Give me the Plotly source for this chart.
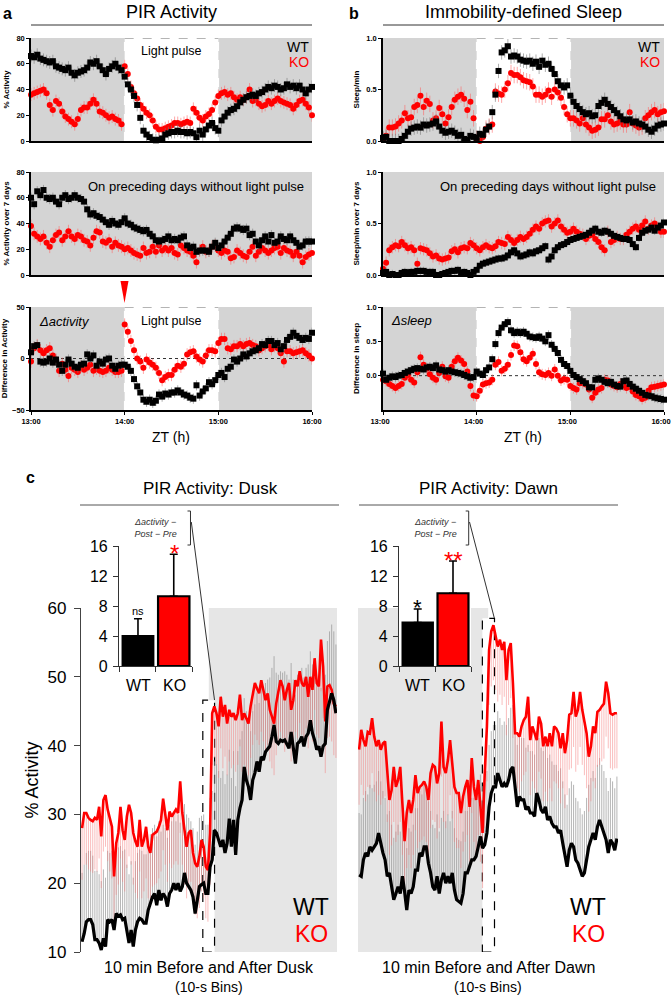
import plotly.graph_objects as go

W, H = 672, 997
FONT = "Liberation Sans, Arial, sans-serif"

# ---------------- data: panels a / b (2-min samples, ZT 13:00-16:00) ----------------
ZT_TICKS = [0, 60, 120, 180]
ZT_LABELS = ["13:00", "14:00", "15:00", "16:00"]
MINUTES = list(range(0, 181, 2))

WT_A_TOP = [66, 65, 67, 64, 63, 62, 61, 62, 58, 57,
            56, 55, 57, 53, 51, 53, 54, 55, 57, 61,
            60, 62, 58, 55, 52, 56, 58, 60, 57, 55,
            50, 44, 40, 35, 28, 18, 8, 5, 3, 1,
            0.5, 1, 2, 5, 6, 7, 7, 8, 7, 7,
            6, 7, 6, 3, 8, 5, 9, 12, 14, 10,
            8, 16, 19, 22, 24, 25, 27, 30, 32, 34,
            35, 36, 35, 37, 38, 40, 42, 41, 43, 42,
            40, 41, 44, 42, 43, 41, 43, 40, 37, 40,
            42]
KO_A_TOP = [36, 37, 38, 39, 40, 37, 28, 24, 31, 29,
            23, 19, 17, 15, 13, 17, 24, 26, 26, 29,
            32, 29, 23, 22, 20, 18, 19, 17, 16, 13,
            58, 52, 42, 37, 33, 28, 25, 22, 20, 16,
            11, 9, 9, 10, 11, 12, 14, 14, 13, 14,
            15, 14, 25, 22, 18, 16, 19, 21, 24, 30,
            35, 37, 38, 36, 37, 34, 32, 34, 32, 34,
            40, 31, 32, 29, 27, 28, 31, 29, 31, 33,
            31, 30, 29, 28, 25, 28, 31, 32, 29, 26,
            20]
WT_A_MID = [60, 55, 65, 62, 66, 60, 59, 60, 57, 55,
            60, 62, 59, 60, 62, 60, 59, 57, 51, 47,
            48, 46, 45, 43, 41, 39, 42, 40, 39, 41,
            44, 40, 39, 37, 36, 35, 34, 35, 32, 30,
            27, 26, 27, 28, 30, 27, 28, 27, 29, 30,
            23, 21, 22, 18, 19, 19, 19, 18, 22, 25,
            21, 23, 26, 29, 32, 36, 37, 36, 35, 36,
            31, 32, 26, 23, 27, 30, 26, 31, 25, 26,
            30, 28, 27, 30, 27, 25, 22, 23, 26, 26,
            26]
KO_A_MID = [38, 32, 30, 28, 30, 25, 22, 27, 31, 33,
            27, 30, 34, 30, 28, 31, 30, 27, 26, 23,
            29, 34, 33, 26, 25, 27, 22, 25, 23, 22,
            20, 21, 19, 17, 16, 15, 21, 17, 18, 22,
            18, 23, 19, 21, 19, 21, 17, 16, 23, 21,
            19, 18, 15, 10, 19, 22, 18, 19, 22, 23,
            19, 17, 19, 18, 13, 14, 19, 17, 15, 14,
            18, 22, 15, 18, 21, 19, 17, 19, 21, 22,
            17, 21, 19, 18, 15, 18, 15, 10, 14, 16,
            17]
WT_A_BOT = [6, 12, 13, -3, -4, -3, 0, -4, -1, -6,
            -12, -6, -1, -5, -8, -9, -6, -5, 4, 0,
            3, -7, -3, -5, -1, 0, -7, -10, -7, -6,
            -6, -8, -12, -20, -27, -33, -40, -42, -40, -43,
            -41, -35, -37, -34, -35, -33, -33, -31, -33, -35,
            -36, -38, -39, -26, -36, -32, -29, -23, -25, -21,
            -16, -14, -18, -10, -8, -1, -3, 0, 4, 2,
            5, 7, 8, 10, 14, 13, 17, 17, 13, 15,
            9, 12, 18, 21, 25, 22, 20, 18, 20, 19,
            25]
KO_A_BOT = [-3, 10, 13, 8, 5, 8, 10, 3, -1, -12,
            -5, -11, -17, -9, -11, -13, -8, -11, -9, -6,
            -12, -10, -12, -13, -12, -9, -11, -13, -13, -12,
            33, 26, 17, 8, 0, -3, -9, -1, -4, -6,
            -9, -14, -21, -18, -16, -16, -11, -7, -8, -5,
            4, 6, 7, 2, -1, -3, 3, 8, 8, 7,
            15, 19, 19, 10, 9, 12, 12, 14, 12, 14,
            15, 13, 12, 8, 10, 12, 13, 9, 12, 10,
            5, -3, 7, 7, 5, 6, 7, 8, 5, 3,
            0]
WT_B_TOP = [0.03, 0.04, 0.0, 0.0, 0.0, 0.0, 0.02, 0.05, 0.09, 0.12,
            0.13, 0.14, 0.13, 0.16, 0.15, 0.16, 0.17, 0.19, 0.14, 0.10,
            0.08, 0.09, 0.10, 0.08, 0.05, 0.06, 0.02, 0.01, 0.05, 0.04,
            0.03, 0.07, 0.06, 0.11, 0.14, 0.28, 0.45, 0.68, 0.86, 0.88,
            0.92, 0.82, 0.83, 0.82, 0.79, 0.78, 0.77, 0.78, 0.75, 0.77,
            0.72, 0.78, 0.74, 0.75, 0.70, 0.65, 0.58, 0.54, 0.52, 0.54,
            0.44, 0.38, 0.34, 0.31, 0.28, 0.26, 0.27, 0.24, 0.25, 0.34,
            0.37, 0.40, 0.36, 0.33, 0.30, 0.27, 0.24, 0.21, 0.20, 0.21,
            0.18, 0.19, 0.17, 0.16, 0.14, 0.11, 0.09, 0.12, 0.15, 0.16,
            0.17]
KO_B_TOP = [0.01, 0.05, 0.13, 0.13, 0.14, 0.17, 0.20, 0.27, 0.22, 0.23,
            0.33, 0.35, 0.44, 0.33, 0.39, 0.36, 0.20, 0.22, 0.32, 0.26,
            0.17, 0.23, 0.33, 0.40, 0.43, 0.45, 0.41, 0.30, 0.38, 0.22,
            0.02, 0.0, 0.04, 0.12, 0.14, 0.16, 0.48, 0.46, 0.45, 0.50,
            0.56, 0.66, 0.64, 0.64, 0.62, 0.59, 0.58, 0.57, 0.53, 0.45,
            0.45, 0.43, 0.45, 0.49, 0.43, 0.50, 0.47, 0.42, 0.33, 0.26,
            0.22, 0.22, 0.20, 0.17, 0.22, 0.16, 0.13, 0.10, 0.11, 0.13,
            0.21, 0.21, 0.25, 0.19, 0.16, 0.17, 0.19, 0.16, 0.16, 0.28,
            0.17, 0.15, 0.13, 0.14, 0.22, 0.25, 0.28, 0.30, 0.26, 0.28,
            0.29]
WT_B_MID = [0.02, 0.03, 0.0, 0.01, 0.0, 0.0, 0.02, 0.03, 0.02, 0.03,
            0.03, 0.04, 0.04, 0.04, 0.03, 0.03, 0.03, 0.0, 0.0, 0.01,
            0.02, 0.03, 0.04, 0.04, 0.05, 0.02, 0.03, 0.02, 0.0, 0.03,
            0.05, 0.09, 0.11, 0.12, 0.13, 0.14, 0.15, 0.16, 0.16, 0.17,
            0.19, 0.22, 0.24, 0.21, 0.18, 0.19, 0.20, 0.22, 0.21, 0.23,
            0.24, 0.26, 0.28, 0.15, 0.18, 0.24, 0.27, 0.29, 0.30, 0.32,
            0.34, 0.35, 0.36, 0.37, 0.38, 0.39, 0.41, 0.43, 0.45, 0.42,
            0.41, 0.43, 0.42, 0.40, 0.38, 0.37, 0.36, 0.35, 0.35, 0.34,
            0.30, 0.27, 0.36, 0.41, 0.43, 0.44, 0.46, 0.43, 0.46, 0.48,
            0.51]
KO_B_MID = [0.06, 0.12, 0.24, 0.27, 0.29, 0.28, 0.32, 0.29, 0.26, 0.27,
            0.24, 0.11, 0.26, 0.25, 0.24, 0.21, 0.18, 0.19, 0.16, 0.15,
            0.16, 0.17, 0.23, 0.25, 0.22, 0.26, 0.27, 0.26, 0.31, 0.29,
            0.26, 0.24, 0.27, 0.29, 0.27, 0.26, 0.28, 0.32, 0.31, 0.30,
            0.37, 0.34, 0.31, 0.34, 0.37, 0.35, 0.37, 0.40, 0.44, 0.47,
            0.45, 0.50, 0.52, 0.53, 0.47, 0.50, 0.53, 0.47, 0.44, 0.41,
            0.42, 0.45, 0.42, 0.40, 0.39, 0.35, 0.38, 0.39, 0.35, 0.32,
            0.27, 0.24, 0.42, 0.32, 0.34, 0.37, 0.35, 0.35, 0.39, 0.42,
            0.45, 0.47, 0.44, 0.48, 0.52, 0.45, 0.48, 0.50, 0.46, 0.42,
            0.42]
WT_B_BOT = [0.03, -0.06, -0.03, -0.01, -0.02, 0.0, 0.01, 0.04, 0.06, 0.08,
            0.10, 0.11, 0.10, 0.09, 0.12, 0.13, 0.11, 0.15, 0.09, 0.08,
            0.06, 0.08, 0.06, 0.05, 0.04, 0.03, 0.01, -0.01, -0.03, -0.02,
            0.06, 0.03, 0.01, 0.08, 0.12, 0.24, 0.46, 0.62, 0.70, 0.75,
            0.78, 0.66, 0.62, 0.64, 0.62, 0.64, 0.61, 0.57, 0.56, 0.55,
            0.57, 0.54, 0.50, 0.59, 0.45, 0.39, 0.33, 0.23, 0.17, 0.14,
            0.07, 0.01, -0.02, -0.05, -0.08, -0.11, -0.17, -0.17, -0.06, -0.04,
            -0.06, -0.09, -0.11, -0.09, -0.13, -0.15, -0.16, -0.08, -0.07, -0.12,
            -0.16, -0.19, -0.22, -0.25, -0.28, -0.29, -0.30, -0.32, -0.33, -0.34,
            -0.35]
KO_B_BOT = [-0.06, -0.08, -0.12, -0.15, -0.18, -0.15, -0.12, -0.03, 0.01, -0.06,
            -0.10, 0.05, 0.27, 0.16, 0.10, 0.02, -0.03, -0.06, 0.04, 0.13,
            -0.01, -0.03, 0.13, 0.21, 0.26, 0.22, 0.17, 0.06, -0.15, -0.29,
            -0.30, -0.22, -0.13, -0.11, -0.10, -0.06, 0.16, 0.20, 0.07, 0.10,
            0.16, 0.30, 0.44, 0.43, 0.34, 0.24, 0.21, 0.26, 0.32, 0.17,
            0.05, 0.02, 0.01, 0.04, 0.0, 0.09, 0.0, -0.07, -0.05, -0.06,
            -0.15, -0.18, -0.20, -0.11, -0.11, -0.13, -0.20, -0.32, -0.25, -0.20,
            -0.18, -0.06, -0.07, -0.13, -0.15, -0.17, -0.12, -0.14, -0.18, -0.16,
            -0.23, -0.28, -0.30, -0.34, -0.32, -0.22, -0.17, -0.16, -0.15, -0.14,
            -0.13]

# approximate SEM per series
SEM_A = {"top": (5, 5), "mid": (4, 5), "bot": (5, 6)}
SEM_B = {"top": (0.07, 0.08), "mid": (0.04, 0.06), "bot": (0.07, 0.08)}

# ---------------- data: panel c (10-s bins, 10 min before / after) ----------------
BINS = list(range(120))
DUSK_WT = [11.5, 12.7, 14.4, 14.7, 14.7, 14.0, 11.8, 11.8, 11.3, 10.3,
           12.0, 10.8, 14.7, 14.4, 14.7, 13.2, 15.6, 15.2, 15.4, 14.7,
           14.9, 12.7, 11.3, 13.2, 10.8, 13.2, 14.4, 14.9, 14.7, 14.2,
           14.2, 16.1, 17.1, 18.0, 18.5, 16.8, 19.0, 17.5, 18.5, 18.0,
           16.6, 18.5, 19.0, 20.0, 19.0, 20.0, 18.8, 19.5, 21.5, 20.0,
           19.5, 19.0, 18.0, 15.6, 17.5, 19.5, 19.8, 20.0, 18.5, 18.5,
           22.4, 23.4, 27.7, 27.3, 26.3, 25.3, 26.3, 24.4, 25.8, 29.4,
           25.3, 29.2, 24.1, 29.2, 30.9, 32.1, 36.9, 35.0, 34.0, 32.1,
           35.0, 36.0, 37.7, 36.2, 38.4, 37.9, 39.1, 39.6, 39.9, 41.3,
           43.0, 40.6, 40.3, 40.8, 40.6, 40.8, 40.3, 39.6, 42.0, 39.6,
           37.4, 40.3, 40.6, 41.3, 39.9, 41.3, 41.8, 43.7, 41.8, 40.8,
           39.4, 39.9, 38.4, 39.9, 40.3, 45.2, 46.6, 47.6, 46.6, 44.7]
DUSK_KO = [28.0, 30.2, 30.2, 29.5, 29.2, 29.0, 29.5, 29.2, 31.1, 26.8,
           32.1, 32.8, 30.7, 29.2, 28.2, 21.0, 25.8, 27.3, 31.1, 27.7,
           26.3, 29.7, 31.4, 30.2, 27.3, 26.1, 25.3, 29.2, 25.3, 26.3,
           28.2, 25.3, 24.4, 27.0, 27.3, 27.5, 28.2, 29.2, 32.3, 30.2,
           27.7, 30.4, 29.7, 30.2, 30.7, 30.2, 34.8, 30.2, 27.3, 25.3,
           27.3, 27.7, 24.4, 22.9, 22.4, 23.9, 26.3, 25.3, 22.4, 21.9,
           27.3, 44.7, 45.7, 44.7, 42.8, 47.1, 44.2, 45.9, 43.2, 45.2,
           44.2, 44.7, 43.7, 44.7, 47.4, 43.7, 44.7, 44.0, 43.2, 45.7,
           47.6, 49.1, 48.3, 47.6, 49.5, 48.1, 46.6, 47.6, 45.2, 44.2,
           43.2, 46.1, 48.1, 49.5, 48.6, 46.6, 48.1, 49.1, 45.2, 46.6,
           49.5, 48.6, 50.8, 49.1, 48.6, 50.0, 47.1, 50.0, 48.1, 52.7,
           49.1, 48.6, 55.4, 51.5, 43.5, 48.6, 48.8, 48.1, 46.1, 45.7]
DAWN_WT = [21.2, 21.0, 23.4, 24.4, 23.9, 25.3, 24.8, 25.3, 25.8, 27.3,
           25.8, 24.4, 23.4, 21.0, 21.5, 19.5, 17.6, 18.5, 19.5, 18.5,
           21.0, 18.8, 16.1, 19.0, 18.5, 19.5, 21.9, 21.9, 24.4, 23.9,
           25.3, 25.3, 22.9, 21.5, 19.5, 19.0, 21.0, 18.5, 20.5, 21.5,
           20.0, 21.0, 20.0, 21.5, 19.0, 17.6, 17.3, 17.1, 18.5, 21.5,
           21.5, 22.4, 23.4, 23.4, 23.9, 25.3, 26.8, 25.1, 25.6, 27.3,
           31.1, 33.1, 34.0, 34.0, 36.0, 35.0, 34.0, 34.5, 34.0, 35.0,
           36.5, 36.9, 33.6, 31.1, 32.6, 32.1, 32.1, 30.7, 31.1, 30.2,
           30.2, 29.7, 33.1, 32.1, 30.7, 30.2, 31.1, 29.2, 29.7, 28.7,
           28.2, 28.2, 27.3, 27.7, 25.8, 23.9, 22.4, 24.8, 25.8, 25.3,
           23.4, 22.9, 21.9, 21.0, 21.5, 23.4, 25.3, 26.3, 27.3, 26.3,
           28.2, 29.2, 28.2, 27.3, 26.3, 24.4, 26.3, 25.8, 24.8, 26.5]
DAWN_KO = [39.4, 42.3, 40.8, 39.9, 42.0, 41.8, 44.0, 41.3, 39.9, 40.8,
           39.4, 40.3, 40.6, 36.9, 32.1, 33.5, 36.9, 34.0, 35.0, 36.9,
           32.1, 26.1, 30.2, 32.1, 30.2, 32.1, 35.7, 33.1, 34.0, 34.3,
           34.8, 34.0, 32.1, 36.0, 37.2, 36.9, 34.5, 36.0, 43.5, 36.9,
           36.0, 37.9, 40.8, 37.4, 34.0, 33.1, 33.1, 30.2, 32.6, 34.0,
           35.0, 31.1, 38.2, 34.0, 32.1, 35.0, 31.1, 27.3, 36.0, 42.8,
           53.9, 56.6, 57.5, 56.1, 54.4, 55.4, 53.9, 55.1, 49.5, 53.9,
           54.9, 49.1, 41.8, 41.8, 41.3, 42.8, 43.7, 44.2, 47.1, 40.8,
           42.8, 41.8, 40.8, 44.2, 43.2, 39.9, 41.3, 39.9, 41.8, 39.9,
           42.8, 42.5, 41.8, 39.6, 41.8, 38.9, 40.8, 44.5, 44.7, 47.8,
           44.2, 45.2, 47.8, 45.2, 43.7, 41.8, 38.4, 39.9, 42.8, 41.8,
           44.9, 45.2, 45.7, 46.1, 49.3, 47.6, 44.7, 44.5, 44.7, 44.7]
DUSK_SEM = (10, 7.5)   # WT (drawn upward), KO (drawn downward)
DAWN_SEM = (9, 8)

# inset bars: delta activity (post - pre)
GROUPS = ["WT", "KO"]
DUSK_DELTA = [4.0, 9.3]
DUSK_DELTA_SEM = [2.3, 5.6]
DAWN_DELTA = [5.8, 9.7]
DAWN_DELTA_SEM = [1.8, 4.3]
INSET_TICKS = [0, 4, 8, 12, 16]
MAIN_TICKS = [10, 20, 30, 40, 50, 60]

RED = "#ff0000"
GREY_AB = "#d4d4d4"
GREY_C = "#e6e6e6"


def PX(x):
    return x / W


def PY(y):
    return 1 - y / H


fig = go.Figure()
layout = {}
shapes = []
annotations = []


def ann(text, x, y, size, color="black", xanchor="center", yanchor="middle", **kw):
    f = dict(family=FONT, size=size, color=color)
    annotations.append(dict(text=text, x=PX(x), y=PY(y), xref="paper", yref="paper",
                            xanchor=xanchor, yanchor=yanchor, showarrow=False, font=f, **kw))


def pline(x0, y0, x1, y1, color="black", width=1, dash="solid"):
    shapes.append(dict(type="line", xref="paper", yref="paper", x0=PX(x0), y0=PY(y0),
                       x1=PX(x1), y1=PY(y1), line=dict(color=color, width=width, dash=dash)))


tickfont_small = dict(family=FONT, size=7.5, color="black", weight="bold")

panels = [
    (1, (31, 312), (38, 141), [0, 80], [0, 20, 40, 60, 80], None, "% Activity",
     WT_A_TOP, KO_A_TOP, SEM_A["top"], "split", False, False),
    (2, (31, 312), (172, 275), [0, 80], [0, 20, 40, 60, 80], None, "% Activity over 7 days",
     WT_A_MID, KO_A_MID, SEM_A["mid"], "full", False, False),
    (3, (31, 312), (307, 410), [-50, 50], [-50, 0, 50], None, "Difference in Activity",
     WT_A_BOT, KO_A_BOT, SEM_A["bot"], "split", True, True),
    (4, (383, 664), (38, 141), [0, 1], [0, 0.5, 1], ["0.0", "0.5", "1.0"], "Sleep/min",
     WT_B_TOP, KO_B_TOP, SEM_B["top"], "split", False, False),
    (5, (383, 664), (172, 275), [0, 1], [0, 0.5, 1], ["0.0", "0.5", "1.0"], "Sleep/min over 7 days",
     WT_B_MID, KO_B_MID, SEM_B["mid"], "full", False, False),
    (6, (383, 664), (307, 410), [-0.5, 1], [0, 0.5, 1], ["0.0", "0.5", "1.0"], "Difference in sleep",
     WT_B_BOT, KO_B_BOT, SEM_B["bot"], "split", True, True),
]

for (i, xd, yd, yr, yt, ytt, ytitle, wt, ko, sem, shade, bottom, zero) in panels:
    sfx = "" if i == 1 else str(i)
    xr, yrf = "x" + sfx, "y" + sfx
    layout["xaxis" + sfx] = dict(
        domain=[PX(xd[0]), PX(xd[1])], range=[0, 180], anchor=yrf, automargin=False,
        showline=True, linecolor="black", linewidth=1.5, showgrid=False, zeroline=False,
        tickvals=ZT_TICKS, ticktext=ZT_LABELS, showticklabels=bottom,
        ticks="outside" if bottom else "", ticklen=3, tickwidth=1.2, tickcolor="black",
        tickfont=tickfont_small, ticklabelshift=(-3 if i == 6 else 0))
    ya = dict(
        domain=[PY(yd[1]), PY(yd[0])], range=yr, anchor=xr, automargin=False,
        showline=True, linecolor="black", linewidth=1.5, showgrid=False, zeroline=False,
        tickvals=yt, ticks="outside", ticklen=3, tickwidth=1.2, tickcolor="black",
        tickfont=tickfont_small,
        title=dict(text=ytitle, font=dict(family=FONT, size=8, color="black", weight="bold"), standoff=6))
    if ytt:
        ya["ticktext"] = ytt
    layout["yaxis" + sfx] = ya

    spans = [(0, 180)] if shade == "full" else [(0, 60), (120, 180)]
    for a, b in spans:
        shapes.append(dict(type="rect", xref=xr, yref=yrf, x0=a, x1=b, y0=yr[0], y1=yr[1],
                           fillcolor=GREY_AB, line=dict(width=0), layer="below"))
    if shade == "split":
        shapes.append(dict(type="line", xref=xr, yref=yrf, x0=60, x1=120, y0=yr[1], y1=yr[1],
                           line=dict(color="#9c9c9c", width=1.5, dash="dash"), layer="below"))
        for xv in (60, 120):
            shapes.append(dict(type="line", xref=xr, yref=yrf, x0=xv, x1=xv, y0=yr[0], y1=yr[1],
                               line=dict(color="white", width=1.5, dash="dash"), layer="below"))
    if zero:
        shapes.append(dict(type="line", xref=xr, yref=yrf, x0=0, x1=180, y0=0, y1=0,
                           line=dict(color="#333333", width=1, dash="dot"), layer="below"))

    fig.add_trace(go.Scatter(
        x=MINUTES, y=ko, mode="markers", xaxis=xr, yaxis=yrf, cliponaxis=False,
        marker=dict(symbol="circle", size=6, color=RED),
        error_y=dict(type="constant", value=sem[1], color="rgba(255,95,95,0.55)", thickness=1, width=0)))
    fig.add_trace(go.Scatter(
        x=MINUTES, y=wt, mode="markers", xaxis=xr, yaxis=yrf, cliponaxis=False,
        marker=dict(symbol="square", size=6, color="black"),
        error_y=dict(type="constant", value=sem[0], color="rgba(120,120,120,0.6)", thickness=1, width=0)))

# panel a/b texts
ann("<b>a</b>", 7, 13, 16)
ann("<b>b</b>", 354, 13, 16)
ann("PIR Activity", 171, 12, 18)
ann("Immobility-defined Sleep", 523, 12, 18)
pline(31, 25, 312, 25, color="#333333", width=1)
pline(383, 25, 664, 25, color="#333333", width=1)
ann("Light pulse", 171, 51, 12.5)
ann("Light pulse", 171, 321, 12.5)
ann("WT", 311, 47, 14, xanchor="right")
ann("KO", 311, 62, 14, color=RED, xanchor="right")
ann("WT", 662, 47, 14, xanchor="right")
ann("KO", 662, 62, 14, color=RED, xanchor="right")
ann("On preceding days without light pulse", 196, 186, 13)
ann("On preceding days without light pulse", 548, 186, 13)
ann("<i>\u0394activity</i>", 64, 321, 13)
ann("<i>\u0394sleep</i>", 411, 320, 13)
ann("ZT (h)", 171, 437, 14)
ann("ZT (h)", 523, 437, 14)
# red arrowhead at 14:00
tri = "M {:.5f} {:.5f} L {:.5f} {:.5f} L {:.5f} {:.5f} Z".format(
    PX(120.5), PY(281), PX(128.5), PY(281), PX(124.5), PY(303))
shapes.append(dict(type="path", xref="paper", yref="paper", path=tri,
                   fillcolor=RED, line=dict(color=RED, width=0)))

# ---------------- panel c ----------------
c_main = [
    (7, (81, 337), DUSK_WT, DUSK_KO, DUSK_SEM, True),
    (8, (358, 618), DAWN_WT, DAWN_KO, DAWN_SEM, False),
]
for (i, xd, wt, ko, sem, show_axis) in c_main:
    xr, yrf = "x%d" % i, "y%d" % i
    layout["xaxis%d" % i] = dict(domain=[PX(xd[0]), PX(xd[1])], range=[-0.5, 119.5], anchor=yrf,
                                 visible=False, showgrid=False, zeroline=False, automargin=False)
    ya = dict(domain=[PY(952), PY(608)], range=[10, 60], anchor=xr, showgrid=False,
              zeroline=False, automargin=False)
    if show_axis:
        ya.update(showline=True, linecolor="#444444", linewidth=1.2, ticks="outside", ticklen=6,
                  tickwidth=1.2, tickcolor="#444444", tickvals=MAIN_TICKS, ticklabelstandoff=4,
                  tickfont=dict(family=FONT, size=17, color="black"),
                  title=dict(text="% Activity", font=dict(family=FONT, size=18, color="black"), standoff=4))
    else:
        ya.update(visible=False)
    layout["yaxis%d" % i] = ya
    fig.add_trace(go.Scatter(
        x=BINS, y=wt, mode="markers", xaxis=xr, yaxis=yrf, cliponaxis=False,
        marker=dict(size=1, color="rgba(0,0,0,0)"),
        error_y=dict(type="constant", symmetric=False, value=sem[0], valueminus=0,
                     color="rgba(150,150,150,0.7)", thickness=1, width=0)))
    fig.add_trace(go.Scatter(
        x=BINS, y=ko, mode="markers", xaxis=xr, yaxis=yrf, cliponaxis=False,
        marker=dict(size=1, color="rgba(0,0,0,0)"),
        error_y=dict(type="constant", symmetric=False, value=0, valueminus=sem[1],
                     color="rgba(245,125,125,0.5)", thickness=1, width=0)))
    fig.add_trace(go.Scatter(x=BINS, y=ko, mode="lines", xaxis=xr, yaxis=yrf,
                             line=dict(color=RED, width=2.6)))
    fig.add_trace(go.Scatter(x=BINS, y=wt, mode="lines", xaxis=xr, yaxis=yrf,
                             line=dict(color="black", width=3.2)))

# shading and dashed boxes in panel c
shapes.append(dict(type="rect", xref="x7", yref="y7", x0=59.4, x1=119.5, y0=10, y1=60,
                   fillcolor=GREY_C, line=dict(width=0), layer="below"))
shapes.append(dict(type="rect", xref="x8", yref="y8", x0=-0.5, x1=59.6, y0=10, y1=60,
                   fillcolor=GREY_C, line=dict(width=0), layer="below"))
shapes.append(dict(type="rect", xref="x7", yref="y7", x0=56.6, x1=62.1, y0=10, y1=46.6,
                   fillcolor="white", line=dict(color="black", width=1.2, dash="dash"), layer="below"))
shapes.append(dict(type="rect", xref="x8", yref="y8", x0=56.9, x1=62.5, y0=10, y1=58.5,
                   fillcolor="white", line=dict(color="black", width=1.2, dash="dash"), layer="below"))

# insets
c_inset = [
    (9, (119, 192), DUSK_DELTA, DUSK_DELTA_SEM),
    (10, (399, 471), DAWN_DELTA, DAWN_DELTA_SEM),
]
for (i, xd, vals, errs) in c_inset:
    xr, yrf = "x%d" % i, "y%d" % i
    layout["xaxis%d" % i] = dict(domain=[PX(xd[0]), PX(xd[1])], range=[0, 2], anchor=yrf,
                                 automargin=False,
                                 showline=True, linecolor="#333333", linewidth=1.2, showgrid=False,
                                 zeroline=False, tickvals=[0, 1, 2], ticktext=["", "", ""],
                                 ticks="outside", ticklen=5, tickwidth=1.2, tickcolor="#333333")
    layout["yaxis%d" % i] = dict(domain=[PY(666), PY(546)], range=[0, 16], anchor=xr,
                                 automargin=False,
                                 showline=True, linecolor="#333333", linewidth=1.2, showgrid=False,
                                 zeroline=False, tickvals=INSET_TICKS, ticks="outside", ticklen=5,
                                 tickwidth=1.2, tickcolor="#333333", ticklabelstandoff=2,
                                 tickfont=dict(family=FONT, size=16, color="black"))
    fig.add_trace(go.Bar(x=[0.52, 1.5], y=vals, width=[0.84, 0.86], xaxis=xr, yaxis=yrf,
                         marker=dict(color=["black", RED], line=dict(color="black", width=2.2)),
                         error_y=dict(type="data", symmetric=False, array=errs, arrayminus=[0, 0],
                                      color="black", thickness=1.6, width=4)))

# panel c texts and decorations
ann("<b>c</b>", 30, 478, 16)
ann("PIR Activity: Dusk", 210, 488, 17)
ann("PIR Activity: Dawn", 488, 488, 17)
pline(80, 505, 339, 505, color="#555555", width=1)
pline(359, 505, 618, 505, color="#555555", width=1)
for cx, bx, lx1, ly1 in [(155, 190.5, 214.5, 700), (435, 468.7, 494.3, 618)]:
    ann("<i>\u0394activity \u2212</i><br><i>Post \u2212 Pre</i>", cx, 528, 9, color="#333333")
    path = "M {:.5f} {:.5f} L {:.5f} {:.5f} L {:.5f} {:.5f} L {:.5f} {:.5f}".format(
        PX(bx - 3), PY(511), PX(bx), PY(511), PX(bx), PY(545), PX(bx - 3), PY(545))
    shapes.append(dict(type="path", xref="paper", yref="paper", path=path,
                       line=dict(color="#333333", width=1)))
    pline(bx + 0.8, 522, lx1, ly1, color="#333333", width=1)

ann("ns", 138, 611, 11)
ann("*", 174, 553, 24, color=RED)
ann("WT", 138, 685, 16)
ann("KO", 174, 685, 16)
ann("*", 417, 607, 22)
ann("**", 453, 560, 24, color=RED)
ann("WT", 417, 685, 16)
ann("KO", 453, 685, 16)

ann("WT", 311, 907, 23)
ann("KO", 311, 934, 23, color=RED)
ann("WT", 588, 907, 23)
ann("KO", 588, 934, 23, color=RED)
ann("10 min Before and After Dusk", 209, 967, 16)
ann("(10-s Bins)", 209, 987, 14)
ann("10 min Before and After Dawn", 488, 967, 16)
ann("(10-s Bins)", 488, 987, 14)

fig.update_layout(
    width=W, height=H, autosize=False,
    margin=dict(l=0, r=0, t=0, b=0, autoexpand=False),
    paper_bgcolor="white", plot_bgcolor="white",
    showlegend=False,
    font=dict(family=FONT, color="black"),
    shapes=shapes, annotations=annotations,
    **layout)

fig.write_html("out.html",
               config={"displayModeBar": False},
               post_script="document.body.style.margin='0px';document.body.style.overflow='hidden';")
